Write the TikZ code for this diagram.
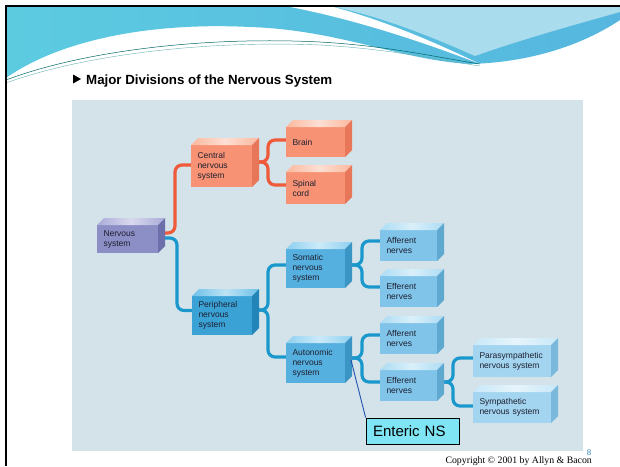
\documentclass[tikz,border=0pt]{standalone}
\usepackage{fontspec}
\setmainfont{Liberation Sans}
\newfontfamily\serifcr{Liberation Serif}
\usetikzlibrary{calc}
\pgfdeclarelayer{back}
\pgfdeclarelayer{lines}
\pgfsetlayers{back,lines,main}
\definecolor{panel}{HTML}{D4E3EA}
\definecolor{txt}{HTML}{1E2030}
\definecolor{redln}{HTML}{EF5A3A}
\definecolor{bluln}{HTML}{1A98CC}
\definecolor{nrvF}{HTML}{8C8EC6}\definecolor{nrvT}{HTML}{A9ABD8}\definecolor{nrvR}{HTML}{6D6FAB}
\definecolor{salF}{HTML}{F79274}\definecolor{salT}{HTML}{FBB89E}\definecolor{salR}{HTML}{E8775A}
\definecolor{perF}{HTML}{3BA2D6}\definecolor{perT}{HTML}{6CC0E8}\definecolor{perR}{HTML}{2384B8}
\definecolor{somF}{HTML}{56B0DF}\definecolor{somT}{HTML}{8ED0F0}\definecolor{somR}{HTML}{3A94C4}
\definecolor{affF}{HTML}{80C4EA}\definecolor{affT}{HTML}{ACDCF4}\definecolor{affR}{HTML}{5FA8D0}
\definecolor{parF}{HTML}{A3D4F0}\definecolor{parT}{HTML}{C8E8F8}\definecolor{parR}{HTML}{7AB8DC}
\definecolor{entF}{HTML}{7FE5F4}
\definecolor{entL}{HTML}{2050B0}
\definecolor{bandA}{HTML}{5CCBE0}\definecolor{bandB}{HTML}{86C6DE}\definecolor{bandC}{HTML}{56B6DF}
\definecolor{bandL}{HTML}{A9DDED}
\definecolor{eightc}{HTML}{3A8AB8}
\tikzset{
  blkface/.style={inner sep=0pt, outer sep=0pt, align=left, text=txt,
    font=\fontsize{8.5}{10}\selectfont},
  rline/.style={draw=redln, line width=3.2pt, rounded corners=7pt},
  bline/.style={draw=bluln, line width=3.2pt, rounded corners=7pt},
}
\newcommand\blk[7]{%
  \pgfmathsetmacro\tw{#4-13}%
  \node[blkface, fill=#6F, minimum width=#4pt, minimum height=#5pt, text width=\tw pt]
     (#1) at ({#2+#4/2},{#3+#5/2}) {#7};
  \shade[left color=#6T, right color=#6T, middle color=white!55!#6T]
     (#1.north west) -- ++(7pt,7pt) -- ([shift={(7pt,7pt)}]#1.north east) -- (#1.north east) -- cycle;
  \fill[#6R] (#1.north east) -- ++(7pt,7pt) -- ([shift={(7pt,7pt)}]#1.south east) -- (#1.south east) -- cycle;
}
\begin{document}
\begin{tikzpicture}[x=1pt,y=-1pt]
\useasboundingbox (0,0) rectangle (620,466);
\clip (0,0) rectangle (620,466);
\begin{pgfonlayer}{back}
\fill[white] (0,0) rectangle (620,466);
% top band
\shade[left color=bandA, middle color=bandB, right color=bandC]
  (6,6) -- (620,6) -- (620,20) .. controls (590,40) and (540,62) .. (470,64)
  .. controls (400,60) and (340,30) .. (250,27) .. controls (150,22) and (60,40) .. (6,78) -- cycle;
\fill[bandL] (330,6) -- (620,6) -- (620,12) .. controls (570,26) and (520,40) .. (475,56)
  .. controls (430,36) and (380,16) .. (330,6) -- cycle;
\fill[white] (285,6) -- (330,6) .. controls (390,22) and (440,45) .. (478,63)
  .. controls (430,45) and (360,20) .. (285,6) -- cycle;
\draw[color=teal!80!black, line width=0.5pt] (6,80) .. controls (80,52) and (200,36) .. (320,42)
  .. controls (390,46) and (440,58) .. (480,64);
\draw[color=teal!60, line width=0.4pt] (6,83) .. controls (80,56) and (200,40) .. (320,45)
  .. controls (390,49) and (440,60) .. (480,66);
% frame
\draw[black, line width=2.4pt] (6,466) -- (6,6) -- (620,6);
% panel
\fill[panel] (72,100) rectangle (583,451);
\end{pgfonlayer}
% title
\fill[black] (73,74.5) -- (81,79) -- (73,83.5) -- cycle;
\node[font=\bfseries\fontsize{13.3}{14}\selectfont, anchor=base west, inner sep=0pt] (title)
  at (86,84) {Major Divisions of the Nervous System};
% boxes
\blk{nerv}{97}{225}{61}{28}{nrv}{Nervous\\system}
\blk{cns}{191}{145}{61}{42}{sal}{Central\\nervous\\system}
\blk{brain}{286}{127}{59}{30}{sal}{Brain}
\blk{spinal}{286}{172}{59}{32}{sal}{Spinal\\cord}
\blk{per}{192}{296}{60}{39}{per}{Peripheral\\nervous\\system}
\blk{som}{286}{249}{59}{39}{som}{Somatic\\nervous\\system}
\blk{aut}{286}{343}{59}{40}{som}{Autonomic\\nervous\\system}
\blk{aff1}{380}{230}{57}{31}{aff}{Afferent\\nerves}
\blk{eff1}{380}{276}{57}{31}{aff}{Efferent\\nerves}
\blk{aff2}{380}{323}{57}{31}{aff}{Afferent\\nerves}
\blk{eff2}{380}{370}{57}{31}{aff}{Efferent\\nerves}
\blk{para}{473}{345}{78}{32}{par}{Parasympathetic\\nervous system}
\blk{sym}{473}{392}{78}{31}{par}{Sympathetic\\nervous system}
% enteric
\node[draw=black, line width=0.8pt, fill=entF, minimum width=93pt, minimum height=26pt,
  text width=79pt, align=left, inner sep=0pt, font=\fontsize{15}{16}\selectfont]
  (ent) at (412.5,431) {Enteric NS};
\draw[entL, line width=0.9pt] ([xshift=6pt,yshift=3pt]aut.east) -- (ent.north west);
% text
\node[font=\serifcr\fontsize{9.8}{10}\selectfont, anchor=base east, inner sep=0pt] (copy)
  at (592,463.5) {Copyright © 2001 by Allyn \& Bacon};
\node[font=\fontsize{8}{8}\selectfont, text=eightc, anchor=base, inner sep=0pt] (eight)
  at (589,455) {8};
% connectors
\begin{pgfonlayer}{lines}
\draw[rline] ([yshift=6pt]nerv.east) -| ([xshift=-16pt,yshift=1pt]cns.west) -- ([yshift=1pt]cns.west);
\draw[bline] ([yshift=1pt]nerv.east) -| ([xshift=-15pt,yshift=5pt]per.west) -- ([yshift=5pt]per.west);
\draw[rline] ([yshift=4pt]cns.east) -| ([xshift=-18pt,yshift=2pt]brain.west) -- ([yshift=2pt]brain.west);
\draw[rline] ([yshift=4pt]cns.east) -| ([xshift=-18pt,yshift=3pt]spinal.west) -- ([yshift=3pt]spinal.west);
\draw[bline] ([yshift=5.5pt]per.east) -| ([xshift=-18pt,yshift=3.5pt]som.west) -- ([yshift=3.5pt]som.west);
\draw[bline] ([yshift=5.5pt]per.east) -| ([xshift=-18pt,yshift=6pt]aut.west) -- ([yshift=6pt]aut.west);
\draw[bline] ([yshift=3.5pt]som.east) -| ([xshift=-18pt,yshift=4.5pt]aff1.west) -- ([yshift=4.5pt]aff1.west);
\draw[bline] ([yshift=3.5pt]som.east) -| ([xshift=-18pt,yshift=4.5pt]eff1.west) -- ([yshift=4.5pt]eff1.west);
\draw[bline] ([yshift=5pt]aut.east) -| ([xshift=-18pt,yshift=3.5pt]aff2.west) -- ([yshift=3.5pt]aff2.west);
\draw[bline] ([yshift=5pt]aut.east) -| ([xshift=-18pt,yshift=3.5pt]eff2.west) -- ([yshift=3.5pt]eff2.west);
\draw[bline] ([yshift=3.5pt]eff2.east) -| ([xshift=-20pt,yshift=3pt]para.west) -- ([yshift=3pt]para.west);
\draw[bline] ([yshift=3.5pt]eff2.east) -| ([xshift=-20pt,yshift=1.5pt]sym.west) -- ([yshift=1.5pt]sym.west);
\end{pgfonlayer}
\end{tikzpicture}
\end{document}
